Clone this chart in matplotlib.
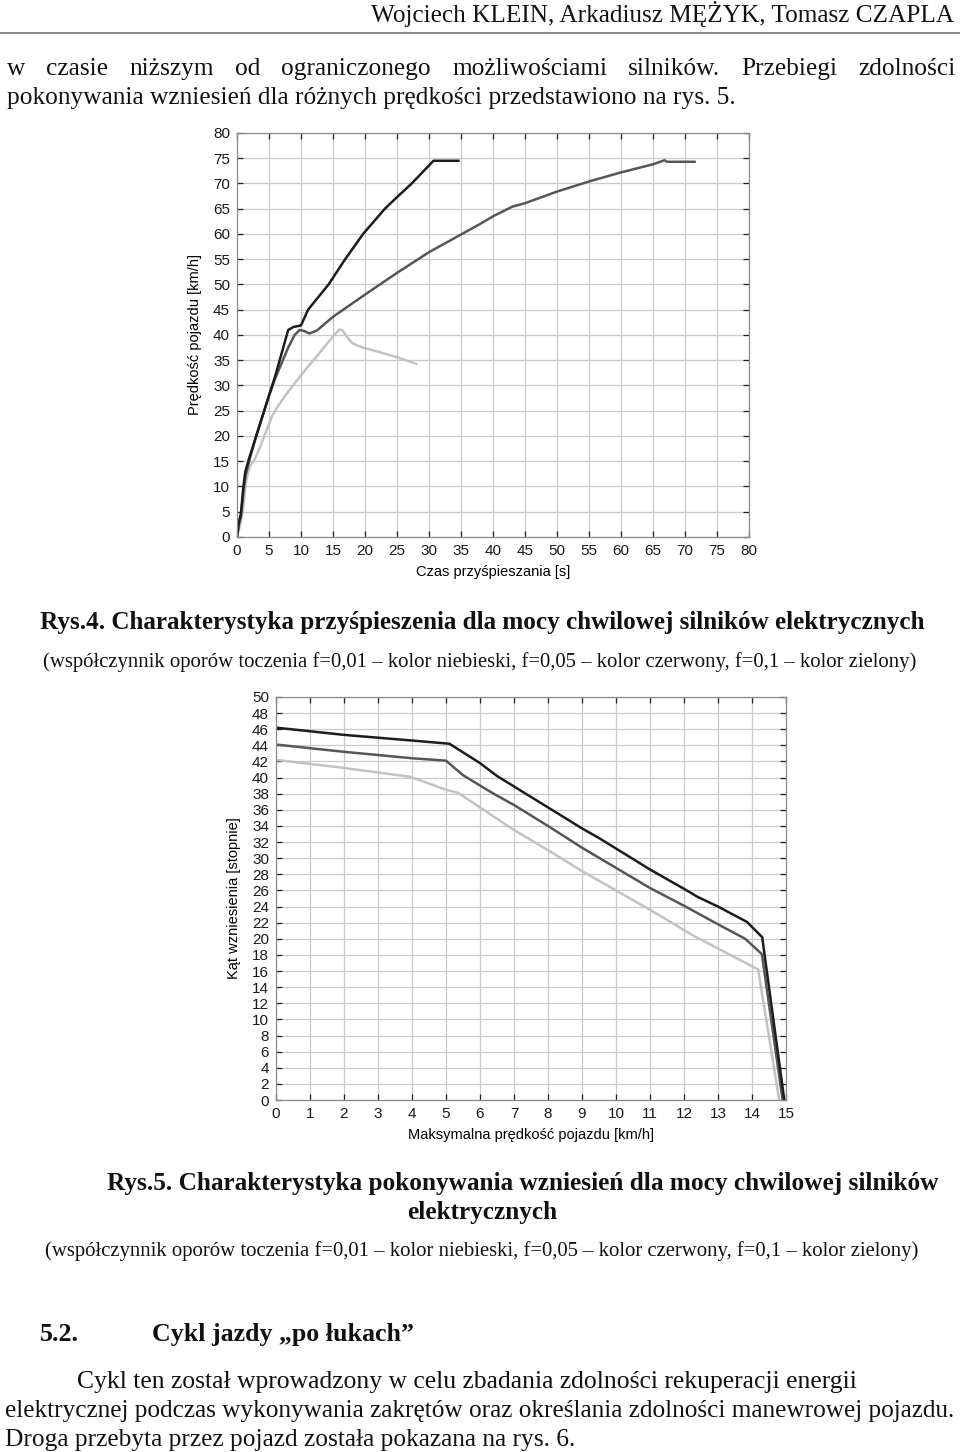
import matplotlib
matplotlib.use("Agg")
from matplotlib import pyplot as plt

W, H = 960, 1452

# Rys.4 - przyspieszenie (czas [s], predkosc [km/h])
t_f001 = [0, 0.3, 0.6, 1, 1.3, 2, 3, 4, 5, 6, 7, 8.0, 8.85, 10, 11.1, 14.3, 16.9, 19.7, 23.1, 25, 27.3, 30.7, 34.6]
v_f001 = [0, 3, 4.5, 10, 13, 16, 20, 24, 28, 32, 36.5, 41, 41.6, 41.9, 45, 50, 55, 60, 65, 67.3, 70, 74.5, 74.5]
t_f005 = [0, 0.3, 0.6, 1, 1.3, 2, 3, 4, 5, 6, 7, 8, 9, 9.8, 10.5, 11.3, 12.5, 15, 20, 25, 30, 35, 38, 40, 43, 45, 50, 55, 60, 65, 66.8, 67.2, 71.5]
v_f005 = [0, 2.5, 4, 9, 12, 15.5, 20, 24, 28, 31.5, 34.5, 37.5, 40, 41, 40.8, 40.3, 40.9, 43.6, 48, 52.3, 56.4, 59.9, 62, 63.5, 65.4, 66.1, 68.4, 70.4, 72.2, 73.8, 74.6, 74.3, 74.3]
t_f01 = [0, 0.3, 0.6, 1, 1.4, 2, 2.7, 3.5, 4.7, 5.5, 6.6, 8, 9.5, 11, 12.5, 14, 15, 16, 16.5, 17.2, 18, 19, 20, 22, 25, 28]
v_f01 = [0, 1.5, 3, 6, 11, 14, 15.2, 17.5, 21.4, 24, 26.3, 28.8, 31.2, 33.6, 35.8, 38.2, 39.7, 41.1, 40.9, 39.6, 38.4, 37.8, 37.4, 36.7, 35.6, 34.3]

# Rys.5 - wzniesienia (predkosc [km/h], kat [stopnie])
s_f001 = [0, 2, 4, 5.1, 6, 6.5, 7, 8, 9, 9.5, 10, 11, 12, 12.4, 13, 13.85, 14.3, 14.95]
a_f001 = [46.2, 45.3, 44.6, 44.2, 41.8, 40.2, 38.9, 36.3, 33.7, 32.5, 31.2, 28.6, 26.2, 25.2, 24, 22.1, 20.2, 0]
s_f005 = [0, 2, 4, 5, 5.5, 6.4, 7, 8, 8.63, 9, 10, 11, 12, 13, 13.8, 14.29, 14.9]
a_f005 = [44.1, 43.2, 42.4, 42.1, 40.3, 38, 36.6, 34, 32.3, 31.3, 28.8, 26.3, 24.1, 21.8, 20, 18.1, 0]
s_f01 = [0, 2, 3.95, 5, 5.36, 6, 7, 8, 9, 10.04, 11, 12.27, 13, 14.18, 14.8]
a_f01 = [42.2, 41.2, 40.1, 38.5, 38.1, 36.3, 33.5, 31, 28.4, 25.9, 23.6, 20.4, 18.8, 16.2, 0]

c001, c005, c01 = "#1c1c1c", "#565656", "#c2c2c2"

plt.rcParams["font.family"] = ["Liberation Sans", "DejaVu Sans"]
fig = plt.figure(figsize=(W / 100, H / 100), dpi=100)
fig.patch.set_facecolor("white")
rend = fig.canvas.get_renderer()


def box(px):
    l, t, r, b = px
    return [l / W, 1 - b / H, (r - l) / W, (b - t) / H]


def style(ax, xmax, xstep, ymax, ystep):
    ax.set_xlim(0, xmax)
    ax.set_ylim(0, ymax)
    ax.set_xticks(range(0, xmax + 1, xstep))
    ax.set_yticks(range(0, ymax + 1, ystep))
    ax.grid(True, color="#c9c9c9", lw=0.9)
    ax.set_axisbelow(True)
    ax.tick_params(direction="in", length=4, width=0.9, color="#222222", top=True, right=True,
                   labelsize=11, labelcolor="#1a1a1a", pad=5)
    for s in ax.spines.values():
        s.set_color("#8a8a8a")
        s.set_linewidth(0.9)


ax1 = fig.add_axes(box((237, 133, 749, 537)))
style(ax1, 80, 5, 80, 5)
ax1.plot(t_f01, v_f01, color=c01, lw=1.8)
ax1.plot(t_f005, v_f005, color=c005, lw=1.8)
ax1.plot(t_f001, v_f001, color=c001, lw=1.8)
ax1.set_xlabel("Czas przyśpieszania [s]", fontsize=10.5, labelpad=5)
ax1.set_ylabel("Prędkość pojazdu [km/h]", fontsize=10.5, labelpad=8)

ax2 = fig.add_axes(box((276, 697, 786, 1100)))
style(ax2, 15, 1, 50, 2)
ax2.plot(s_f01, a_f01, color=c01, lw=1.8)
ax2.plot(s_f005, a_f005, color=c005, lw=1.8)
ax2.plot(s_f001, a_f001, color=c001, lw=1.8)
ax2.set_xlabel("Maksymalna prędkość pojazdu [km/h]", fontsize=10.5, labelpad=5)
ax2.set_ylabel("Kąt wzniesienia [stopnie]", fontsize=10.5, labelpad=8)


def put(s, x0, y, x1=None, size=12, bold=False, ha="left"):
    # y is the baseline in pixels; with x1 the line is fitted between x0 and x1
    t = fig.text(x0 / W, 1 - y / H, s, fontsize=size, family="Liberation Serif",
                 weight="bold" if bold else "normal", va="baseline", ha=ha, color="#111111")
    if x1 is not None:
        w = t.get_window_extent(rend).width
        t.set_fontsize(size * (x1 - x0) / w)
    return t


def justify(s, x0, x1, y, size):
    words = s.split()
    ts = [fig.text(0, 1 - y / H, w, fontsize=size, family="Liberation Serif", va="baseline",
                   color="#111111") for w in words]
    ws = [t.get_window_extent(rend).width for t in ts]
    gap = (x1 - x0 - sum(ws)) / (len(ws) - 1)
    x = x0
    for t, w in zip(ts, ws):
        t.set_x(x / W)
        x += w + gap


put("Wojciech KLEIN, Arkadiusz MĘŻYK, Tomasz CZAPLA", 371, 22, x1=954)
fig.add_artist(plt.Line2D([0, 1], [1 - 33 / H, 1 - 33 / H], color="#777777", lw=1.2))
b2 = put("pokonywania wzniesień dla różnych prędkości przedstawiono na rys. 5.", 7, 104, x1=734)
justify("w czasie niższym od ograniczonego możliwościami silników. Przebiegi zdolności",
        7, 956, 75, b2.get_fontsize())

put("Rys.4. Charakterystyka przyśpieszenia dla mocy chwilowej silników elektrycznych",
    40, 629, x1=922, bold=True)
put("(współczynnik oporów toczenia f=0,01 – kolor niebieski, f=0,05 – kolor czerwony, f=0,1 – kolor zielony)",
    43, 667, x1=920)
cap = put("Rys.5. Charakterystyka pokonywania wzniesień dla mocy chwilowej silników", 107, 1190,
          x1=933, bold=True)
put("elektrycznych", 482, 1219, size=cap.get_fontsize(), bold=True, ha="center")
put("(współczynnik oporów toczenia f=0,01 – kolor niebieski, f=0,05 – kolor czerwony, f=0,1 – kolor zielony)",
    45, 1256, x1=922)

hd = put("Cykl jazdy „po łukach”", 152, 1341, x1=412, bold=True)
put("5.2.", 40, 1341, size=hd.get_fontsize(), bold=True)
put("Cykl ten został wprowadzony w celu zbadania zdolności rekuperacji energii", 77, 1388, x1=854)
put("elektrycznej podczas wykonywania zakrętów oraz określania zdolności manewrowej pojazdu.", 5, 1417, x1=956)
put("Droga przebyta przez pojazd została pokazana na rys. 6.", 5, 1446, x1=576)

fig.savefig("out.png", dpi=100)
